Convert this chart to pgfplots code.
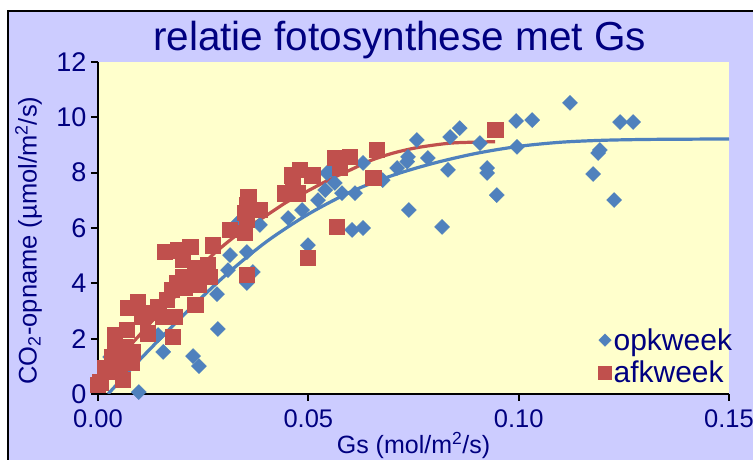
\documentclass[border=0pt]{standalone}
\usepackage{fontspec}
\setmainfont{Liberation Sans}
\usepackage{pgfplots}
\pgfplotsset{compat=1.18}
\definecolor{navy}{RGB}{0,0,128}
\definecolor{lav}{RGB}{204,204,255}
\definecolor{cream}{RGB}{255,255,204}
\definecolor{opblue}{RGB}{79,129,189}
\definecolor{afred}{RGB}{192,80,77}

\begin{document}
\begin{tikzpicture}
\useasboundingbox (0,0) rectangle (753pt,460pt);
\fill[white] (0,0) rectangle (753pt,460pt);
\fill[lav] (8pt,-10pt) rectangle (780pt,449pt);
\draw[line width=1.2pt] (8pt,-10pt) -- (8pt,449pt) -- (780pt,449pt);
\begin{axis}[
    at={(98pt,66pt)}, anchor=south west,
    scale only axis,
    width=631pt, height=332pt,
    xmin=0, xmax=0.15, ymin=0, ymax=12,
    axis x line*=bottom, axis y line*=left,
    axis line style={line width=2.2pt, black},
    axis background/.style={fill=cream},
    xtick={0,0.05,0.1,0.15}, ytick={0,2,...,12},
    scaled x ticks=false,
    xticklabel style={/pgf/number format/fixed, /pgf/number format/fixed zerofill,
        /pgf/number format/precision=2, font=\fontsize{25.5}{25.5}\selectfont,
        yshift=-5pt},
    yticklabel style={font=\fontsize{27}{27}\selectfont, xshift=-1pt},
    /pgf/number format/assume math mode=true,
    tick align=outside, major tick length=7pt,
    tick style={black, line width=2pt},
    ticklabel style={text=navy},
    title={relatie fotosynthese met Gs},
    title style={font=\fontsize{40.5}{40.5}\selectfont, text=navy,
        at={(axis description cs:0.5,1)}, anchor=base, yshift=5pt, xshift=-14pt},
    xlabel={Gs (mol/m\textsuperscript{2}/s)},
    xlabel style={font=\fontsize{25}{25}\selectfont, text=navy,
        at={(axis description cs:0.5,-0.155)}, anchor=center},
    ylabel={CO\textsubscript{2}-opname (µmol/m\textsuperscript{2}/s)},
    ylabel style={font=\fontsize{25.5}{25.5}\selectfont, text=navy,
        at={(axis description cs:-0.11,0.462)}, anchor=center},
    legend style={draw=none, fill=none, font=\fontsize{30}{30}\selectfont,
        text=navy, at={(0.788,0.21)}, anchor=north west,
        legend cell align=left, row sep=5pt},
]
% opkweek
\addplot[only marks, mark=square*, mark size=5.3pt, opblue,
    mark options={rotate=45, draw=opblue, fill=opblue},
    legend image post style={mark size=4.4pt}] coordinates {
(0.0097,0.07) (0.0029,1.34) (0.0155,1.52) (0.0226,1.37) (0.0240,1.01)
(0.0285,2.35) (0.0283,3.61) (0.0143,2.13) (0.0309,4.48) (0.0314,5.02)
(0.0354,5.13) (0.0354,4.01) (0.0385,6.11) (0.0368,4.41) (0.0452,6.36)
(0.0485,6.65) (0.0523,7.01) (0.0540,7.37) (0.0544,7.99) (0.0563,7.63)
(0.0580,7.26) (0.0611,7.26) (0.0630,8.35) (0.0677,7.73) (0.0711,8.17)
(0.0499,5.38) (0.0604,5.93) (0.0630,6.00) (0.0758,9.18) (0.0737,8.57)
(0.0784,8.53) (0.0832,8.10) (0.0837,9.29) (0.0860,9.61) (0.0908,9.07)
(0.0925,8.17) (0.0925,7.99) (0.0948,7.19) (0.0739,6.65) (0.0818,6.04)
(0.0996,8.93) (0.0994,9.87) (0.1032,9.90) (0.1122,10.52) (0.1241,9.83)
(0.1272,9.83) (0.1193,8.82) (0.1189,8.71) (0.1177,7.95) (0.1227,7.01)
(0.0333,6.20) (0.0735,8.40) (0.0556,8.10)
};
\addlegendentry{opkweek}
% afkweek
\addplot[only marks, mark=square*, mark size=7.6pt, afred,
    mark options={draw=afred, fill=afred},
    legend image post style={mark size=6.6pt}] coordinates {
(0.0000,0.33) (0.0005,0.43) (0.0017,0.94) (0.0029,0.80) (0.0033,1.34)
(0.0040,1.77) (0.0040,2.13) (0.0052,0.87) (0.0059,0.51) (0.0064,1.70)
(0.0069,2.31) (0.0071,1.34) (0.0081,1.12) (0.0083,1.52) (0.0071,3.11)
(0.0095,3.32) (0.0105,2.78) (0.0119,2.20) (0.0128,2.93) (0.0143,3.14)
(0.0155,2.78) (0.0164,3.40) (0.0176,3.76) (0.0183,2.78) (0.0178,2.06)
(0.0207,3.83) (0.0231,3.22) (0.0238,3.94) (0.0188,4.01) (0.0202,4.23)
(0.0202,4.84) (0.0190,5.20) (0.0159,5.13) (0.0219,5.31) (0.0231,4.55)
(0.0261,4.66) (0.0266,4.23) (0.0273,5.38) (0.0314,5.93) (0.0349,5.82)
(0.0354,6.29) (0.0354,6.83) (0.0357,7.12) (0.0349,6.54) (0.0385,6.65)
(0.0354,4.30) (0.0444,7.26) (0.0475,7.26) (0.0461,7.91) (0.0480,8.10)
(0.0509,7.91) (0.0463,7.55) (0.0563,8.53) (0.0599,8.57) (0.0663,8.82)
(0.0575,8.17) (0.0654,7.81) (0.0568,6.04) (0.0499,4.92) (0.0944,9.54)
};
\addlegendentry{afkweek}
% trend lines
\addplot[opblue, line width=3.2pt, smooth, forget plot] coordinates {
(0.0024,0) (0.01,1.25) (0.02,2.8) (0.03,4.25) (0.04,5.5) (0.05,6.5)
(0.06,7.3) (0.07,7.9) (0.08,8.35) (0.09,8.7) (0.10,8.95) (0.11,9.1)
(0.12,9.17) (0.13,9.2) (0.14,9.21) (0.15,9.22)
};
\addplot[afred, line width=3.2pt, smooth, forget plot] coordinates {
(0.0005,0.4) (0.005,1.3) (0.01,2.15) (0.015,3.0) (0.02,3.8) (0.026,4.85)
(0.033,5.75) (0.04,6.45) (0.045,6.95) (0.05,7.35) (0.055,7.75) (0.06,8.1)
(0.065,8.45) (0.07,8.7) (0.075,8.88) (0.08,9.0) (0.085,9.08) (0.0944,9.12)
};
\end{axis}
\end{tikzpicture}
\end{document}
